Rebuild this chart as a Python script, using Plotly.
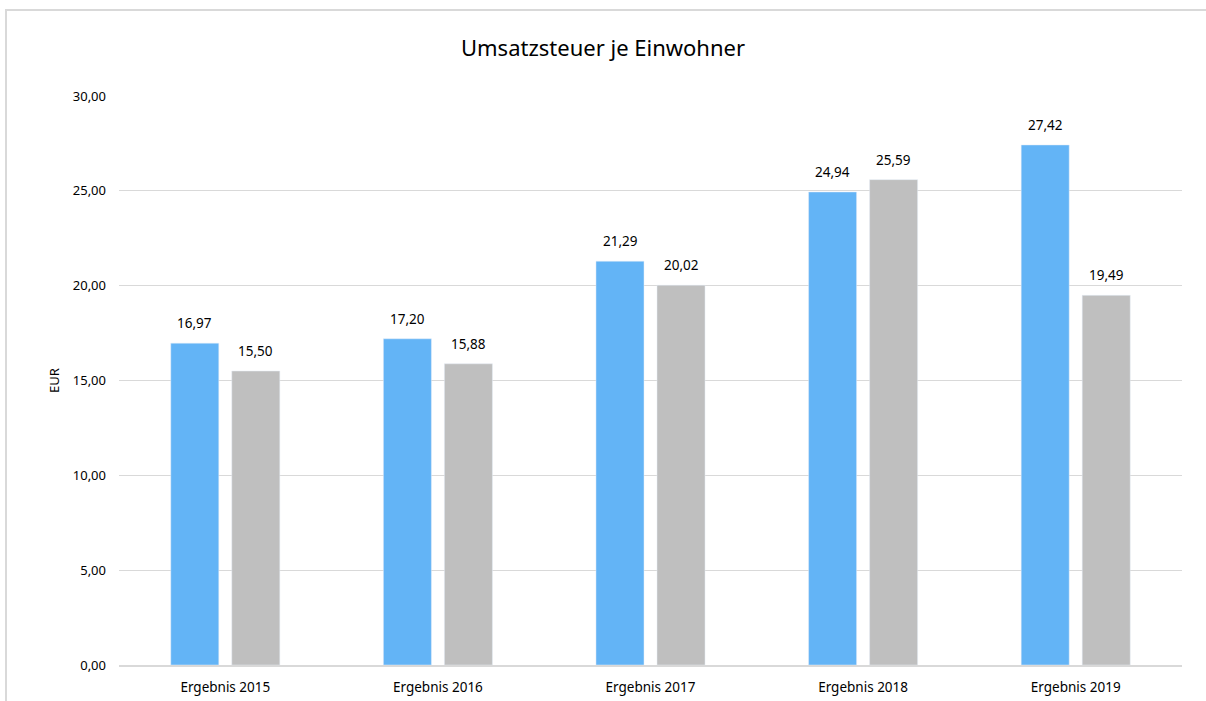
import plotly.graph_objects as go

categories = ["Ergebnis 2015", "Ergebnis 2016", "Ergebnis 2017", "Ergebnis 2018", "Ergebnis 2019"]
series_a = [16.97, 17.20, 21.29, 24.94, 27.42]
series_b = [15.50, 15.88, 20.02, 25.59, 19.49]
y_ticks = [0, 5, 10, 15, 20, 25, 30]

W, H = 1206, 701
L, R, T, B = 119, 24, 96, 36
pw, ph = W - L - R, H - T - B

fig = go.Figure()
fig.add_trace(go.Bar(x=categories, y=series_a, marker_color="#63B4F6", name="A", hoverinfo="y"))
fig.add_trace(go.Bar(x=categories, y=series_b, marker_color="#BFBFBF", name="B", hoverinfo="y"))

def fmt(v):
    return f"{v:.2f}".replace(".", ",")

annotations = []
for cat, a, b in zip(categories, series_a, series_b):
    for val, shift in ((a, -30.5), (b, 30.5)):
        annotations.append(dict(x=cat, y=val, xref="x", yref="y", text=fmt(val),
                                showarrow=False, xshift=shift, yshift=9, yanchor="bottom",
                                font=dict(size=13.5, color="#000000")))

fig.update_layout(
    width=W, height=H,
    margin=dict(l=L, r=R, t=T, b=B),
    paper_bgcolor="white", plot_bgcolor="white",
    separators=",.",
    font=dict(family="Noto Sans, Open Sans, sans-serif", size=12, color="#000000"),
    title=dict(text="Umsatzsteuer je Einwohner", x=0.5, xanchor="center", y=1 - 48 / H, yanchor="middle",
               font=dict(size=22, color="#000000")),
    showlegend=False,
    barmode="group",
    bargap=0.426,
    bargroupgap=0.213,
    annotations=annotations,
    xaxis=dict(showgrid=False, showline=True, linecolor="#D9D9D9", linewidth=2, ticks="",
               ticklabelstandoff=9, automargin=False,
               tickfont=dict(size=13.5), zeroline=False),
    yaxis=dict(range=[0, 30], tickvals=y_ticks, tickformat=".2f", showgrid=True, gridcolor="#D9D9D9",
               gridwidth=1.3, zeroline=False, showline=False, ticks="", ticklen=0,
               ticklabelstandoff=12, automargin=False,
               tickfont=dict(size=13),
               title=dict(text="EUR", font=dict(size=13), standoff=10)),
    shapes=[dict(type="rect", xref="paper", yref="paper",
                 x0=(6 - L) / pw, x1=(W + 10 - L) / pw,
                 y0=(H - B - (H + 10)) / ph, y1=(H - B - 10) / ph,
                 line=dict(color="#D9D9D9", width=2), fillcolor="rgba(0,0,0,0)", layer="below")],
)

fig.write_html("out.html", config={"displayModeBar": False},
               post_script="document.body.style.margin='0';")
